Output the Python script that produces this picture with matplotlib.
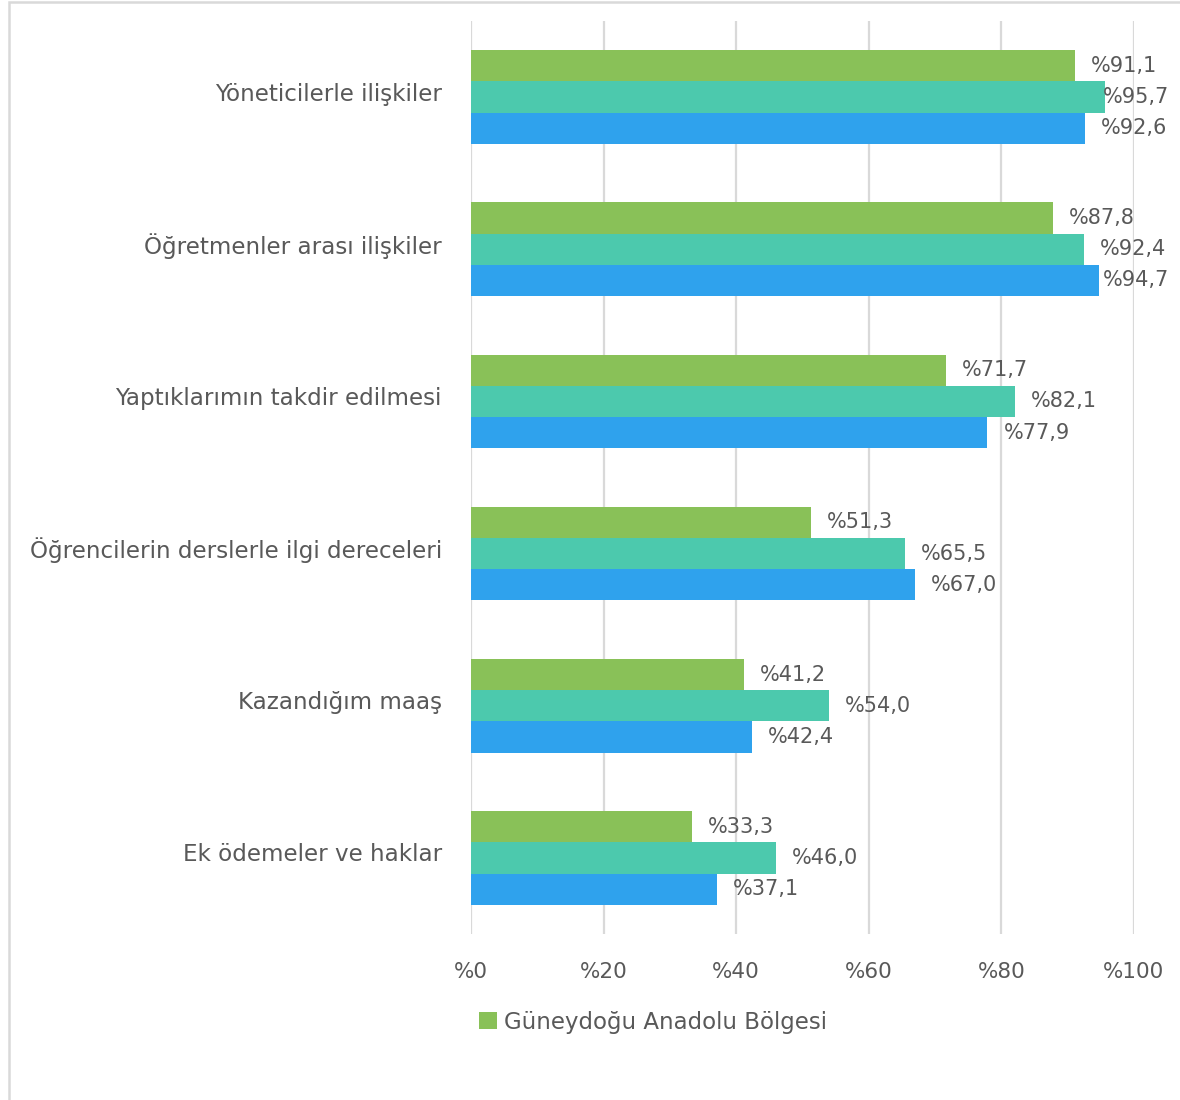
import numpy as np
import matplotlib
matplotlib.use("Agg")
import matplotlib.pyplot as plt
from matplotlib.patches import Rectangle
from matplotlib.transforms import ScaledTranslation

categories = [
    "Yöneticilerle ilişkiler",
    "Öğretmenler arası ilişkiler",
    "Yaptıklarımın takdir edilmesi",
    "Öğrencilerin derslerle ilgi dereceleri",
    "Kazandığım maaş",
    "Ek ödemeler ve haklar",
]
guneydogu = [91.1, 87.8, 71.7, 51.3, 41.2, 33.3]
series_b = [95.7, 92.4, 82.1, 65.5, 54.0, 46.0]
series_c = [92.6, 94.7, 77.9, 67.0, 42.4, 37.1]
legend_label = "Güneydoğu Anadolu Bölgesi"
xticks = [0, 20, 40, 60, 80, 100]

GREEN = "#89C158"
TEAL = "#4CC9AD"
BLUE = "#2FA2ED"
TXT = "#595959"
GRID = "#D9D9D9"

plt.rcParams["font.family"] = ["DejaVu Sans"]

fig = plt.figure(figsize=(11.8, 11.0), dpi=100)
ax = fig.add_axes([471 / 1180, 1 - 934 / 1100, 663 / 1180, 913 / 1100])

y = np.arange(len(categories))
h = 0.205
series = [(guneydogu, GREEN, legend_label, -h),
          (series_b, TEAL, None, 0.0),
          (series_c, BLUE, None, h)]

for vals, col, lab, off in series:
    ax.barh(y + off, vals, height=h, color=col, label=lab, zorder=3)
    for v, yy in zip(vals, y + off):
        # Excel-style outside-end labels, pushed back inside the right edge
        xt = min(v + 2.4, 95.3)
        ax.text(xt, yy, f"%{v:.1f}".replace(".", ","), va="center",
                ha="left", fontsize=15, color=TXT, zorder=4)

ax.set_xlim(0, 100)
ax.set_ylim(len(categories) - 0.5, -0.5)
ax.set_xticks(xticks)
ax.set_xticklabels([f"%{t}" for t in xticks], fontsize=15.5, color=TXT)
ax.set_yticks(y)
ax.set_yticklabels(categories, fontsize=16.6, color=TXT)
ax.tick_params(length=0)
ax.tick_params(axis="x", pad=20)
ax.tick_params(axis="y", pad=21)
for lbl in ax.get_yticklabels():
    lbl.set_transform(lbl.get_transform()
                      + ScaledTranslation(0, 4 / 72, fig.dpi_scale_trans))
for s in ax.spines.values():
    s.set_visible(False)
ax.xaxis.grid(True, color=GRID, lw=1.6, zorder=0)
ax.set_axisbelow(True)

handles, labels = ax.get_legend_handles_labels()
fig.legend(handles, labels, loc="center", bbox_to_anchor=(653 / 1180, 1 - 1022 / 1100),
           frameon=False, fontsize=16.5, labelcolor=TXT, handlelength=0.75,
           handleheight=0.75, handletextpad=0.3)

fig.patches.append(Rectangle((9 / 1180, -0.1), 1.2, 1.1 - 2.5 / 1100,
                             transform=fig.transFigure, fill=False,
                             edgecolor="#D9D9D9", lw=1.8))

fig.savefig("out.png", dpi=100)
